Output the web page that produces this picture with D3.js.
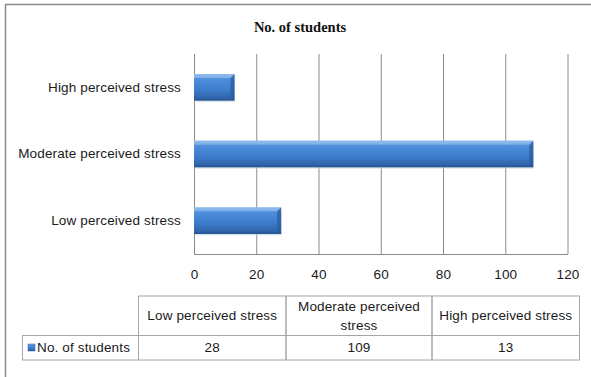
<!DOCTYPE html>
<html>
<head>
<meta charset="utf-8">
<script src="https://cdn.jsdelivr.net/npm/d3@7"></script>
<style>
  body { margin: 0; background: #fff; }
  svg { display: block; }
  .lbl { font-family: "Liberation Sans", Arial, sans-serif; font-size: 13.5px; letter-spacing: 0.15px; fill: #1a1a1a; }
  .title { font-family: "Liberation Serif", "Times New Roman", serif; font-size: 14.5px; font-weight: bold; fill: #111; }
</style>
</head>
<body>
<svg id="chart" width="591" height="377"></svg>
<script>
// chart data
var categories = ["Low perceived stress", "Moderate perceived stress", "High perceived stress"];
var values = [28, 109, 13];
var xTicks = [0, 20, 40, 60, 80, 100, 120];
var seriesName = "No. of students";

var svg = d3.select("#chart");

// outer frame (runs off the right and bottom edges)
svg.append("rect")
  .attr("x", 5.5).attr("y", 4.5)
  .attr("width", 700).attr("height", 500)
  .attr("fill", "none").attr("stroke", "#8c8c8c").attr("stroke-width", 1.5);

// title
svg.append("text").attr("class", "title")
  .attr("x", 300).attr("y", 32)
  .attr("text-anchor", "middle")
  .text(seriesName);

// scales
var x = d3.scaleLinear().domain([0, 120]).range([194, 567.5]);
var y = d3.scaleBand()
  .domain(categories.slice().reverse())
  .range([54, 254])
  .paddingInner(0.6)
  .paddingOuter(0.3);

// gradient for the bevelled bars
var defs = svg.append("defs");
var grad = defs.append("linearGradient").attr("id", "barGrad")
  .attr("x1", 0).attr("y1", 0).attr("x2", 0).attr("y2", 1);
grad.append("stop").attr("offset", "0%").attr("stop-color", "#80b2ea");
grad.append("stop").attr("offset", "18%").attr("stop-color", "#4f8fdc");
grad.append("stop").attr("offset", "60%").attr("stop-color", "#3d7bcb");
grad.append("stop").attr("offset", "88%").attr("stop-color", "#3067ad");
grad.append("stop").attr("offset", "100%").attr("stop-color", "#24528e");

// x grid
svg.append("g")
  .attr("transform", "translate(0,254)")
  .call(d3.axisBottom(x).tickValues(xTicks).tickSize(-200).tickFormat(""))
  .call(function(g) {
    g.select(".domain").remove();
    g.selectAll("line").attr("stroke", "#8c8c8c").attr("stroke-width", 1);
  });

// x axis baseline and labels
svg.append("g")
  .attr("transform", "translate(0,254)")
  .call(d3.axisBottom(x).tickValues(xTicks).tickSize(0).tickPadding(15))
  .call(function(g) {
    g.select(".domain").attr("stroke", "#8c8c8c");
    g.selectAll("text").attr("class", "lbl").attr("font-size", null).attr("font-family", null).attr("fill", null);
  });

// y axis
svg.append("g")
  .attr("transform", "translate(194,0)")
  .call(d3.axisLeft(y).tickSize(0).tickPadding(13))
  .call(function(g) {
    g.select(".domain").attr("stroke", "#8c8c8c");
    g.selectAll("text").attr("class", "lbl").attr("font-size", null).attr("font-family", null).attr("fill", null);
  });

// bars
var data = categories.map(function(c, i) { return { cat: c, val: values[i] }; });
var bars = svg.append("g").selectAll("g").data(data).enter().append("g");

bars.append("rect")
  .attr("x", x(0) + 0.5)
  .attr("y", function(d) { return y(d.cat) + 1.5; })
  .attr("width", function(d) { return x(d.val) - x(0); })
  .attr("height", y.bandwidth())
  .attr("fill", "#c9d3df").attr("opacity", 0.6);

bars.append("rect")
  .attr("x", x(0))
  .attr("y", function(d) { return y(d.cat); })
  .attr("width", function(d) { return x(d.val) - x(0); })
  .attr("height", y.bandwidth())
  .attr("fill", "url(#barGrad)");

// right-end bevel
var bev = 4;
bars.append("path")
  .attr("d", function(d) {
    var x1 = x(d.val), y0 = y(d.cat), y1 = y0 + y.bandwidth();
    return "M" + (x1 - bev) + "," + (y0 + bev) + "L" + x1 + "," + y0 + "L" + x1 + "," + y1 + "L" + (x1 - bev) + "," + (y1 - bev) + "Z";
  })
  .attr("fill", "#2a5a98").attr("opacity", 0.7);

// top bevel highlight
bars.append("path")
  .attr("d", function(d) {
    var x0 = x(0), x1 = x(d.val), y0 = y(d.cat);
    return "M" + x0 + "," + y0 + "L" + x1 + "," + y0 + "L" + (x1 - bev) + "," + (y0 + bev) + "L" + x0 + "," + (y0 + bev) + "Z";
  })
  .attr("fill", "#9cc3ef").attr("opacity", 0.55);

// data table
var colX = [22.5, 138.5, 286, 432, 579.5];
var rowY = [296, 335.5, 360];
var tbl = svg.append("g").attr("stroke", "#a6a6a6").attr("stroke-width", 1).attr("fill", "none");

// header row cells (no top-left cell)
categories.forEach(function(c, i) {
  tbl.append("rect")
    .attr("x", colX[i + 1]).attr("y", rowY[0])
    .attr("width", colX[i + 2] - colX[i + 1]).attr("height", rowY[1] - rowY[0]);
});
// value row cells
for (var i = 0; i < 4; i++) {
  tbl.append("rect")
    .attr("x", colX[i]).attr("y", rowY[1])
    .attr("width", colX[i + 1] - colX[i]).attr("height", rowY[2] - rowY[1]);
}

// header labels (wrapped like the original)
var headerLines = [["Low perceived stress"], ["Moderate perceived", "stress"], ["High perceived stress"]];
headerLines.forEach(function(lines, i) {
  var cx = (colX[i + 1] + colX[i + 2]) / 2;
  var mid = (rowY[0] + rowY[1]) / 2;
  lines.forEach(function(line, j) {
    svg.append("text").attr("class", "lbl")
      .attr("x", cx)
      .attr("y", mid + (j - (lines.length - 1) / 2) * 19)
      .attr("dy", "0.35em")
      .attr("text-anchor", "middle")
      .text(line);
  });
});

// value labels
values.forEach(function(v, i) {
  svg.append("text").attr("class", "lbl")
    .attr("x", (colX[i + 1] + colX[i + 2]) / 2)
    .attr("y", (rowY[1] + rowY[2]) / 2)
    .attr("dy", "0.35em")
    .attr("text-anchor", "middle")
    .text(v);
});

// legend key + series name
svg.append("rect")
  .attr("x", 28).attr("y", 344).attr("width", 7).attr("height", 7)
  .attr("fill", "url(#barGrad)").attr("stroke", "#2f64a8").attr("stroke-width", 0.5);
svg.append("text").attr("class", "lbl")
  .attr("x", 37).attr("y", (rowY[1] + rowY[2]) / 2)
  .attr("dy", "0.35em")
  .text(seriesName);
</script>
</body>
</html>
